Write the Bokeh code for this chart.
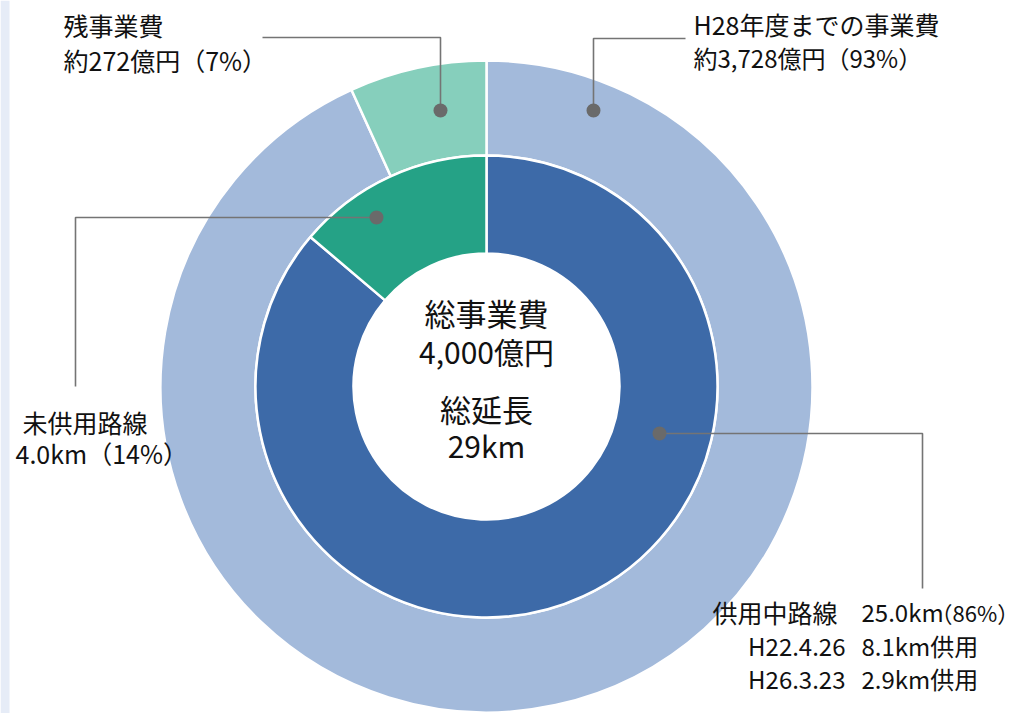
import math
from bokeh.plotting import figure
from bokeh.models import Range1d, ColumnDataSource
from bokeh.core.properties import value
from bokeh.embed import file_html
from bokeh.resources import INLINE

# ---- data ----
outer_labels = ["H28年度までの事業費", "残事業費"]
outer_values = [3728, 272]          # 億円
inner_labels = ["供用中路線", "未供用路線"]
inner_values = [25.0, 4.0]          # km
outer_colors = ["#A3BADB", "#86CFBC"]
inner_colors = ["#3D6AA8", "#25A286"]
open_dates = ["H22.4.26", "H26.3.23"]
open_km = [8.1, 2.9]

W, H = 1024, 713
FONT = value("Noto Sans CJK JP")

def px(x):
    return x

def py(y):
    return H - y

p = figure(width=W, height=H, output_backend="svg", toolbar_location=None,
           x_range=Range1d(0, W), y_range=Range1d(0, H),
           min_border=0, outline_line_color=None, match_aspect=False)
p.axis.visible = False
p.grid.visible = False
p.background_fill_color = "white"
p.border_fill_color = "white"

# faint strip on the left edge
p.quad(left=[0], right=[9], bottom=[0], top=[H], fill_color="#E6ECF7", line_color=None)

cx, cy = px(486), py(386)

def ring(values, colors, r_in, r_out):
    total = float(sum(values))
    starts, ends = [], []
    a = math.pi / 2
    for v in values:
        starts.append(a)
        a = a - v / total * 2 * math.pi
        ends.append(a)
    src = ColumnDataSource(dict(x=[cx] * len(values), y=[cy] * len(values),
                                start=starts, end=ends, color=colors))
    p.annular_wedge(x="x", y="y", inner_radius=r_in, outer_radius=r_out,
                    start_angle="start", end_angle="end", direction="clock",
                    fill_color="color", line_color="white", line_width=2.5,
                    source=src)

ring(outer_values, outer_colors, 231, 326)
ring(inner_values, inner_colors, 133, 231)

# ---- leader lines ----
LC = "#747474"
leaders = [
    [(440, 110), (440, 37), (262, 37)],
    [(593, 110), (593, 38), (685, 38)],
    [(376, 217), (75, 217), (75, 386)],
    [(659, 433), (922, 433), (922, 588)],
]
for pts in leaders:
    p.line([px(a) for a, b in pts], [py(b) for a, b in pts],
           line_color=LC, line_width=1.6)
p.scatter([px(pts[0][0]) for pts in leaders], [py(pts[0][1]) for pts in leaders],
          size=14, fill_color="#6A6A6A", line_color=None)

# ---- labels ----
def label(x, y, txt, size="25px", align="left"):
    p.text([px(x)], [py(y)], text=[txt], text_font=FONT, text_font_size=size,
           text_color="#111111", text_align=align, text_baseline="middle")

tot_o = sum(outer_values)
tot_i = sum(inner_values)
label(63, 24, "残事業費")
label(63, 59, f"約{outer_values[1]}億円（{round(outer_values[1]/tot_o*100)}%）")
label(693, 23, outer_labels[0])
label(693, 57, f"約{outer_values[0]:,}億円（{round(outer_values[0]/tot_o*100)}%）", size="24px")
label(22, 421, inner_labels[1])
label(15, 452, f"{inner_values[1]:.1f}km（{round(inner_values[1]/tot_i*100)}%）")

label(712, 611, inner_labels[0])
label(861, 611, f"{inner_values[0]:.1f}km", size="24px")
label(930, 611, f"（{round(inner_values[0]/tot_i*100)}%）", size="22px")
for i, (d, k) in enumerate(zip(open_dates, open_km)):
    label(845, 645 + 33 * i, d, size="24px", align="right")
    label(861, 645 + 33 * i, f"{k}km供用", size="24px")

label(486, 312, "総事業費", size="31px", align="center")
label(486, 350, f"{tot_o:,}億円", size="30px", align="center")
label(486, 408, "総延長", size="31px", align="center")
label(486, 444, f"{tot_i:.0f}km", size="30px", align="center")

open("out.html", "w").write(file_html(p, INLINE))
